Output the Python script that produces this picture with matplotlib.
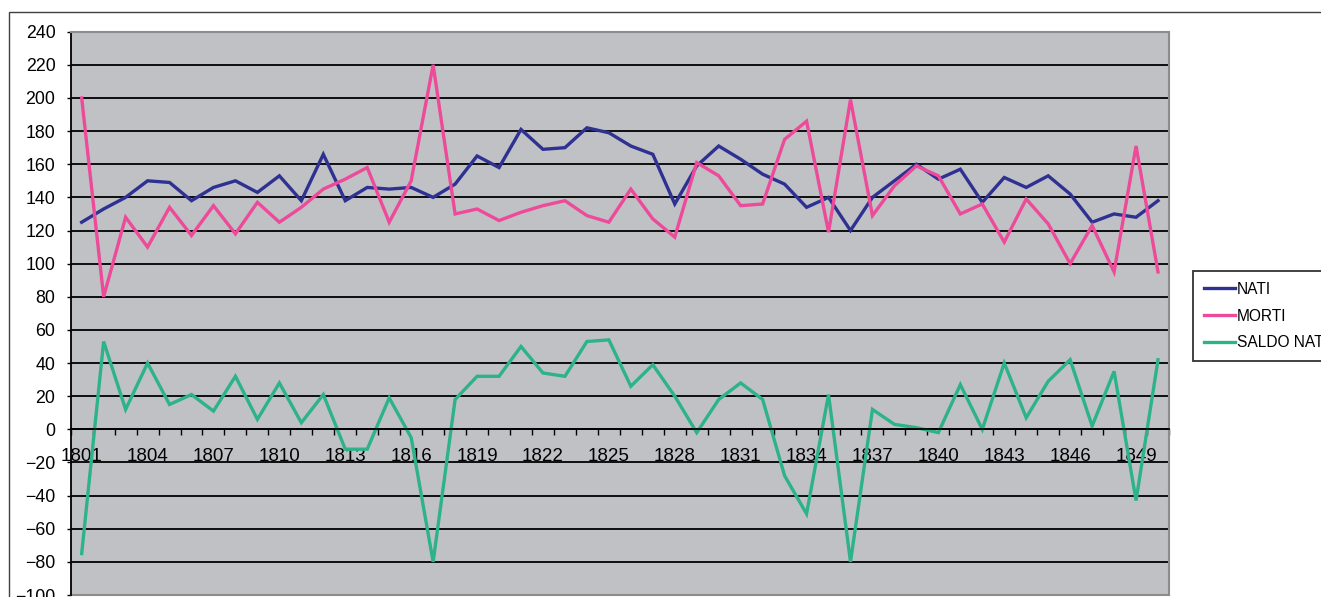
import numpy as np
import matplotlib
matplotlib.use("Agg")
import matplotlib.pyplot as plt
from matplotlib.lines import Line2D
from matplotlib.patches import Rectangle

plt.rcParams['font.family'] = ['Liberation Sans', 'DejaVu Sans']

# data
years = list(range(1801, 1851))
nati = [125, 133, 140, 150, 149, 138, 146, 150, 143, 153,
        138, 166, 138, 146, 145, 146, 140, 148, 165, 158,
        181, 169, 170, 182, 179, 171, 166, 136, 159, 171,
        163, 154, 148, 134, 140, 120, 140, 150, 160, 151,
        157, 137, 152, 146, 153, 142, 125, 130, 128, 138]
morti = [200, 80, 128, 110, 134, 117, 135, 118, 137, 125,
         134, 145, 151, 158, 125, 150, 220, 130, 133, 126,
         131, 135, 138, 129, 125, 145, 127, 116, 161, 153,
         135, 136, 175, 186, 119, 199, 129, 147, 159, 153,
         130, 136, 113, 139, 124, 100, 123, 95, 171, 95]
saldo = [-75, 53, 12, 40, 15, 21, 11, 32, 6, 28,
         4, 21, -12, -12, 19, -5, -80, 18, 32, 32,
         50, 34, 32, 53, 54, 26, 39, 20, -2, 18,
         28, 18, -28, -51, 21, -80, 12, 3, 1, -2,
         27, 0, 40, 7, 29, 42, 2, 35, -43, 42]
series_names = ['NATI', 'MORTI', 'SALDO NATURALE']
series_colors = ['#2E3192', '#EE4A9A', '#2DB388']

W, H = 1321, 597
fig = plt.figure(figsize=(W / 100, H / 100), dpi=100)
fig.patch.set_facecolor('white')

# outer chart border (cropped at right/bottom like the original)
fig.patches.append(Rectangle((9 / W, -0.1), 1.2, 1.1 - 12 / H,
                             transform=fig.transFigure, fill=False,
                             edgecolor='#404040', lw=1.0))

ax = fig.add_axes([70.7 / W, 1 - 595 / H, (1169 - 70.7) / W, (595 - 31.7) / H])
ax.set_facecolor('#C0C1C5')

x = np.arange(len(years))
for vals, name, col in zip([nati, morti, saldo], series_names, series_colors):
    ax.plot(x, vals, color=col, lw=2.4, label=name, solid_joinstyle='miter')

ax.set_xlim(-0.5, len(years) - 0.5)
ax.set_ylim(-100, 240)

# y axis
ax.set_yticks(np.arange(-100, 241, 20))
ax.yaxis.grid(True, color='black', lw=1.3)
ax.set_axisbelow(True)
ax.tick_params(axis='y', direction='out', length=3, width=1, color='black',
               labelsize=12.8, pad=8)

# x axis through zero, ticks between categories
ax.spines['bottom'].set_position(('data', 0))
ax.spines['bottom'].set_color('black')
ax.spines['bottom'].set_linewidth(1.3)
ax.spines['left'].set_color('black')
ax.spines['left'].set_linewidth(1.3)
for s in ['top', 'right']:
    ax.spines[s].set_color('#8C8C8C')
    ax.spines[s].set_linewidth(1.5)
ax.axhline(-100, color='#8C8C8C', lw=1.5, clip_on=False)

ax.set_xticks(np.arange(-0.5, len(years), 1.0))
ax.set_xticklabels([])
ax.tick_params(axis='x', which='major', direction='out', length=4.5, width=1,
               color='black')
lab_pos = x[::3]
ax.set_xticks(lab_pos, minor=True)
ax.set_xticklabels([str(years[i]) for i in lab_pos], minor=True)
ax.tick_params(axis='x', which='minor', length=0, labelsize=13.5, pad=13.5)

handles = [Line2D([], [], color=c, lw=2.4) for c in series_colors]
leg = fig.legend(handles, series_names, loc='upper left',
                 bbox_to_anchor=(1193 / W, 1 - 271 / H),
                 fontsize=11.2, frameon=True, fancybox=False, shadow=False,
                 handlelength=2.0, handletextpad=0.1, labelspacing=0.75,
                 borderpad=0.7, borderaxespad=0)
leg.get_frame().set_edgecolor('black')
leg.get_frame().set_linewidth(1.3)
leg.get_frame().set_facecolor('white')

fig.savefig('out.png', dpi=100)
